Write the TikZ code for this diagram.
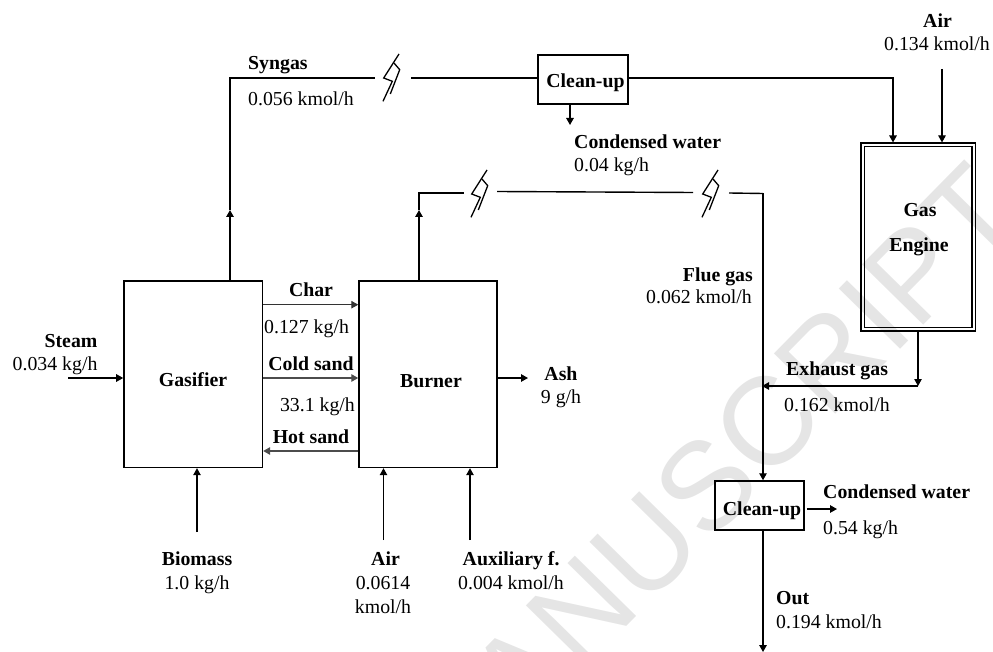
\documentclass[tikz,border=0pt]{standalone}
\usepackage{fontspec}
\setmainfont{Liberation Serif}
\newfontfamily\wmfont{Liberation Sans}
\usetikzlibrary{arrows.meta,calc}
\tikzset{
  x=1pt,y=-1pt,
  unit/.style={draw=black,line width=1.5pt,fill=none,inner sep=0pt,rectangle},
  flow/.style={line width=1.4pt,-{Triangle[length=7pt,width=7.5pt]}},
  thinflow/.style={line width=1.1pt,-{Triangle[length=7pt,width=7.5pt]}},
  pipe/.style={line width=1.4pt},
  bolt/.style={line width=1.3pt,line join=miter},
  tl/.style={inner sep=0pt,anchor=base west,font=\fontsize{19.8}{22}\selectfont},
  tr/.style={inner sep=0pt,anchor=base east,font=\fontsize{19.8}{22}\selectfont},
  tc/.style={inner sep=0pt,anchor=base,font=\fontsize{19.8}{22}\selectfont},
  bl/.style={inner sep=0pt,anchor=base west,font=\fontsize{19.8}{22}\selectfont\bfseries},
  br/.style={inner sep=0pt,anchor=base east,font=\fontsize{19.8}{22}\selectfont\bfseries},
  bc/.style={inner sep=0pt,anchor=base,font=\fontsize{19.8}{22}\selectfont\bfseries},
  water/.style={inner sep=0pt,anchor=east,rotate=45.5,text=black!10,font=\wmfont\fontsize{125}{125}\selectfont},
}
\newcommand{\lightn}[3]{%
  \coordinate (#3) at (#1,#2);
  \draw[bolt] (#3) -- ++(-15.3,24) -- ++(8.6,3.3) -- ++(-9.3,20);
  \draw[bolt] ($(#3)+(-5,9)$) -- ++(5.7,6.7) -- ++(-9.4,24.3);
}
\begin{document}
\begin{tikzpicture}
\useasboundingbox (0,0) rectangle (993,652);
\clip (0,0) rectangle (993,652);
\node[water] (wm) at (998,188) {MANUSCRIPT};

% units
\node[unit,minimum width=138.5pt,minimum height=186.5pt] (gas) at (193.2,374.2) {};
\node[unit,minimum width=138pt,minimum height=186.5pt] (burn) at (428,374.2) {};
\node[unit,minimum width=90pt,minimum height=49pt] (cl1) at (583,79.5) {};
\node[unit,minimum width=89pt,minimum height=49pt] (cl2) at (759.5,505.5) {};
\node[unit,line width=1.1pt,minimum width=114.5pt,minimum height=188pt] (eng) at (918.2,237) {};
\node[unit,line width=1.1pt,minimum width=107.5pt,minimum height=181pt] (engin) at (918.2,237) {};

% lightning marks
\lightn{399}{54}{b1}
\lightn{487}{170}{b2}
\lightn{718}{170}{b3}

% free ends
\coordinate (synup) at (230,210);
\coordinate (syncor) at (230,78);
\coordinate (b1l) at (375,78);
\coordinate (b1r) at (411,78);
\coordinate (engcor) at (893,78);
\coordinate (airtop) at (942,69);
\coordinate (fluup) at (419,210);
\coordinate (flucor) at (419,193);
\coordinate (b2l) at (464,193);
\coordinate (b2r) at (497,191.5);
\coordinate (b3l) at (693,192.5);
\coordinate (b3r) at (729,193);
\coordinate (flue) at (763,193.5);
\coordinate (exc) at (918,386);
\coordinate (jn) at (762,386);
\coordinate (outend) at (763,652);
\coordinate (cw1) at (570,125);
\coordinate (cw2) at (837,509);
\coordinate (steam) at (68,378);
\coordinate (ash) at (528,378);
\coordinate (bio) at (197,532);
\coordinate (airb) at (383.5,540);
\coordinate (aux) at (470,540);

% connectors
\draw[flow] (gas.north -| syncor) -- (synup);
\draw[pipe] (synup) -- (syncor) -- (b1l);
\draw[pipe] (b1r) -- (cl1.west |- b1r);
\draw[flow] (cl1.east |- b1r) -- (engcor) -- (eng.north -| engcor);
\draw[thinflow] (airtop) -- (eng.north -| airtop);
\draw[flow] (cl1.south -| cw1) -- (cw1);
\draw[flow] (burn.north -| fluup) -- (fluup);
\draw[pipe] (fluup) -- (flucor) -- (b2l);
\draw[pipe] (b2r) -- (b3l);
\draw[pipe] (b3r) -- (flue);
\draw[thinflow] (flue) -- (cl2.north -| flue);
\draw[thinflow] (eng.south -| exc) -- (exc);
\draw[thinflow] (exc) -- (jn);
\draw[flow] (cl2.south -| outend) -- (outend);
\draw[flow] ($(cl2.east |- cw2)+(2,0)$) -- (cw2);
\draw[flow] (steam) -- (gas.west |- steam);
\draw[thinflow,black!80] (gas.east |- 0,304.7) -- (burn.west |- 0,304.7);
\draw[flow,black!70] (gas.east |- 0,378) -- (burn.west |- 0,378);
\draw[flow,black!70] (burn.west |- 0,451) -- (gas.east |- 0,451);
\draw[flow] (burn.east |- ash) -- (ash);
\draw[thinflow] (bio) -- (gas.south -| bio);
\draw[thinflow] (airb) -- (burn.south -| airb);
\draw[thinflow] (aux) -- (burn.south -| aux);

% labels
\node[bl] (t1) at (248,70) {Syngas};
\node[tl] (t2) at (248,106) {0.056 kmol/h};
\node[bc] (t3) at (585.5,88) {Clean-up};
\node[bl] (t4) at (574,149) {Condensed water};
\node[tl] (t5) at (574,172) {0.04 kg/h};
\node[bc] (t6) at (937.5,28) {Air};
\node[tl] (t7) at (884,51) {0.134 kmol/h};
\node[bc] (t8) at (920,217) {Gas};
\node[bc] (t9) at (919,252) {Engine};
\node[br] (t10) at (753,282) {Flue gas};
\node[tr] (t11) at (752,304) {0.062 kmol/h};
\node[bl] (t12) at (786,375) {Exhaust gas};
\node[tl] (t13) at (784,411) {0.162 kmol/h};
\node[bc] (t14) at (71,347) {Steam};
\node[tl] (t15) at (12.5,370) {0.034 kg/h};
\node[bc] (t16) at (193,386) {Gasifier};
\node[bc] (t17) at (311,297) {Char};
\node[tl] (t18) at (264,333) {0.127 kg/h};
\node[bc] (t19) at (311,370) {Cold sand};
\node[tr] (t20) at (355,411) {33.1 kg/h};
\node[bc] (t21) at (311,443) {Hot sand};
\node[bc] (t22) at (431,387) {Burner};
\node[bc] (t23) at (561,380) {Ash};
\node[tc] (t24) at (561,403) {9 g/h};
\node[bc] (t25) at (197,565) {Biomass};
\node[tc] (t26) at (197,589) {1.0 kg/h};
\node[bc] (t27) at (385.5,565) {Air};
\node[tc] (t28) at (383,589) {0.0614};
\node[tc] (t29) at (383,613) {kmol/h};
\node[bl] (t30) at (462.5,565) {Auxiliary f.};
\node[tl] (t31) at (458,589) {0.004 kmol/h};
\node[bl] (t32) at (823,498) {Condensed water};
\node[tl] (t33) at (823,534) {0.54 kg/h};
\node[bc] (t34) at (762,515) {Clean-up};
\node[bl] (t35) at (776,604) {Out};
\node[tl] (t36) at (776,628) {0.194 kmol/h};
\end{tikzpicture}
\end{document}
